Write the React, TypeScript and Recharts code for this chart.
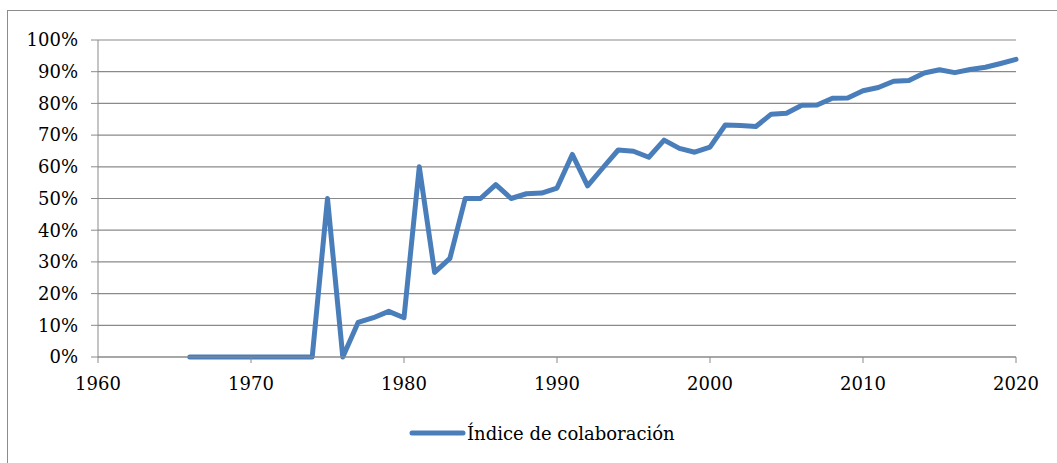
import React from "react";
import { LineChart, Line, XAxis, YAxis, CartesianGrid } from "recharts";

const years: number[] = [
  1966, 1967, 1968, 1969, 1970, 1971, 1972, 1973, 1974, 1975,
  1976, 1977, 1978, 1979, 1980, 1981, 1982, 1983, 1984, 1985,
  1986, 1987, 1988, 1989, 1990, 1991, 1992, 1993, 1994, 1995,
  1996, 1997, 1998, 1999, 2000, 2001, 2002, 2003, 2004, 2005,
  2006, 2007, 2008, 2009, 2010, 2011, 2012, 2013, 2014, 2015,
  2016, 2017, 2018, 2019, 2020,
];

const indice: number[] = [
  0, 0, 0, 0, 0, 0, 0, 0, 0, 50,
  0, 10.9, 12.4, 14.4, 12.4, 60, 26.7, 31.1, 50, 50,
  54.4, 50, 51.5, 51.7, 53.3, 63.9, 54, 59.7, 65.3, 64.9,
  63, 68.4, 65.8, 64.6, 66.2, 73.2, 73, 72.7, 76.6, 76.9,
  79.4, 79.5, 81.6, 81.7, 84, 85, 87, 87.2, 89.6, 90.6,
  89.7, 90.7, 91.4, 92.6, 93.9,
];

const xTicks: number[] = [1960, 1970, 1980, 1990, 2000, 2010, 2020];
const yTicks: number[] = [0, 10, 20, 30, 40, 50, 60, 70, 80, 90, 100];
const seriesName = "Índice de colaboración";

const data = years.map((y, i) => ({ year: y, value: indice[i] }));

const FONT = "DejaVu Serif";
const FS = 18;
const LINE = "#4a7ebb";
const GRID = "#8a8a8a";

export default function App() {
  return (
    <div
      style={{
        position: "absolute",
        left: 0,
        top: 0,
        width: 1057,
        height: 463,
        overflow: "hidden",
        background: "#fff",
        fontFamily: FONT,
      }}
    >
      <div
        style={{
          position: "absolute",
          left: 7,
          top: 10,
          width: 1200,
          height: 600,
          border: "1.5px solid #8c8c8c",
          boxSizing: "border-box",
        }}
      />
      <div style={{ position: "absolute", left: 0, top: 0 }}>
        <LineChart
          width={1057}
          height={463}
          data={data}
          margin={{ top: 40, right: 41, bottom: 66, left: 0 }}
        >
          <CartesianGrid vertical={false} stroke={GRID} strokeWidth={1.2} />
          <XAxis
            dataKey="year"
            type="number"
            domain={[1960, 2020]}
            ticks={xTicks}
            interval={0}
            height={40}
            tickSize={6}
            tickMargin={14}
            stroke={GRID}
            tick={{ fill: "#000", fontSize: FS, fontFamily: FONT }}
            tickLine={{ stroke: GRID }}
          />
          <YAxis
            type="number"
            domain={[0, 100]}
            ticks={yTicks}
            interval={0}
            width={98}
            tickSize={7}
            tickMargin={13}
            stroke={GRID}
            tickFormatter={(v: number) => `${v}%`}
            tick={{ fill: "#000", fontSize: FS, fontFamily: FONT }}
            tickLine={{ stroke: GRID }}
          />
          <Line
            type="linear"
            dataKey="value"
            name={seriesName}
            stroke={LINE}
            strokeWidth={5}
            strokeLinejoin="round"
            strokeLinecap="round"
            dot={false}
            activeDot={false}
            isAnimationActive={false}
          />
        </LineChart>
      </div>
      <div
        style={{
          position: "absolute",
          left: 407,
          top: 419,
          height: 28,
          display: "flex",
          alignItems: "center",
          fontSize: FS,
          color: "#000",
          fontFamily: FONT,
        }}
      >
        <svg width={59} height={10} style={{ display: "block" }}>
          <line
            x1={5}
            y1={5}
            x2={56}
            y2={5}
            stroke={LINE}
            strokeWidth={5}
            strokeLinecap="round"
          />
        </svg>
        <span style={{ marginLeft: 1 }}>{seriesName}</span>
      </div>
    </div>
  );
}
